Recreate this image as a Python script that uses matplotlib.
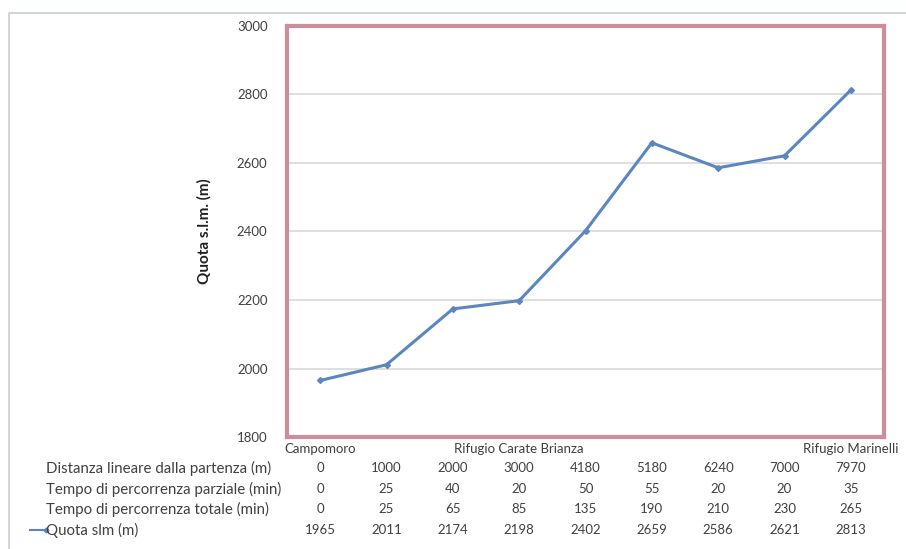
import numpy as np
import matplotlib.pyplot as plt
from matplotlib.lines import Line2D

plt.rcParams['font.family'] = ['Lato', 'DejaVu Sans']

# tappe del percorso
tappe = ['Campomoro', '', '', 'Rifugio Carate Brianza', '', '', '', '', 'Rifugio Marinelli']
distanza = [0, 1000, 2000, 3000, 4180, 5180, 6240, 7000, 7970]  # m
tempo_parziale = [0, 25, 40, 20, 50, 55, 20, 20, 35]  # min
tempo_totale = [0, 25, 65, 85, 135, 190, 210, 230, 265]  # min
quota = [1965, 2011, 2174, 2198, 2402, 2659, 2586, 2621, 2813]  # m

righe = ['Distanza lineare dalla partenza (m)',
         'Tempo di percorrenza parziale (min)',
         'Tempo di percorrenza totale (min)',
         'Quota slm (m)']
valori = [distanza, tempo_parziale, tempo_totale, quota]

blu = '#5b86c0'
rosso = '#cc8e9b'
testo = '#404040'
fs = 9.5

fig = plt.figure(figsize=(9.06, 5.49), dpi=100)
ax = fig.add_axes([287/906, 1 - 437/549, (884 - 287)/906, (437 - 26)/549])

x = np.arange(len(quota))
ax.plot(x, quota, color=blu, lw=2.2, marker='D', ms=3, mfc=blu, mec=blu)

ax.set_xlim(-0.5, len(quota) - 0.5)
ax.set_ylim(1800, 3000)
ax.set_yticks(np.arange(1800, 3001, 200))
ax.tick_params(axis='y', length=0, labelsize=fs, labelcolor=testo, pad=14)
ax.set_xticks([])
ax.grid(axis='y', color='#d9d9d9', lw=1.2)
ax.set_axisbelow(True)
for s in ax.spines.values():
    s.set_color(rosso)
    s.set_linewidth(3)

ax.set_ylabel('Quota s.l.m. (m)', fontsize=11, fontweight='bold', color='#202020', labelpad=18)

# tabella dati sotto il grafico
tr = ax.get_xaxis_transform()
h = 437 - 26
for i, t in enumerate(tappe):
    if t:
        ax.text(i, -(449 - 437)/h, t, transform=tr, ha='center', va='center',
                fontsize=fs, color=testo, clip_on=False)

righe_y = [468, 489, 509, 530]
for nome, vals, py in zip(righe, valori, righe_y):
    yy = -(py - 437)/h
    fig.text(46/906, 1 - py/549, nome, ha='left', va='center',
             fontsize=10.8, color=testo)
    for i, v in enumerate(vals):
        ax.text(i, yy, str(v), transform=tr, ha='center', va='center',
                fontsize=fs, color=testo, clip_on=False)

# legenda nella riga della quota
fig.add_artist(Line2D([30/906, 46/906], [1 - 530/549] * 2, color=blu, lw=1.5,
                      marker='D', ms=2.5, markevery=[1]))

# bordo dell'area del grafico
fig.add_artist(Line2D([9/906, 9/906, 1], [0, 1 - 13/549, 1 - 13/549],
                      color='#c8cfcf', lw=1.2))

fig.savefig('out.png', dpi=100)
